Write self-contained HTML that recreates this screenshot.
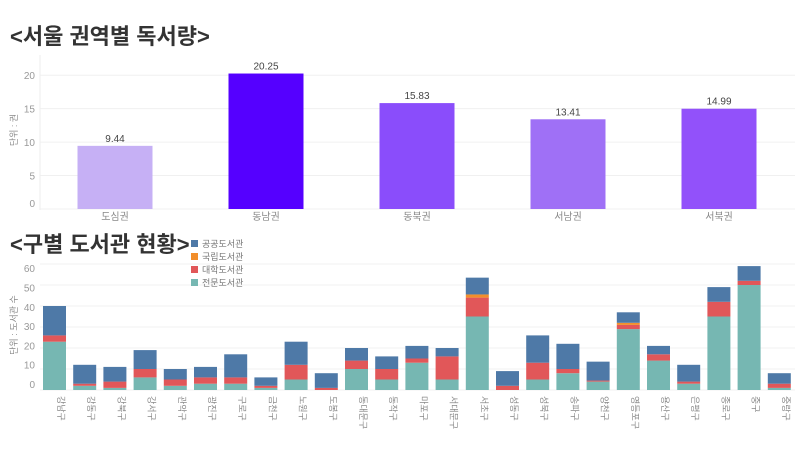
<!DOCTYPE html>
<html><head><meta charset="utf-8"><style>
body{margin:0;background:#fff;width:800px;height:450px;overflow:hidden;font-family:"Liberation Sans","Noto Sans CJK KR",sans-serif}
</style></head><body>
<svg id="s" width="800" height="450" xmlns="http://www.w3.org/2000/svg" style="font-family:'Liberation Sans','Noto Sans CJK KR',sans-serif">
<text x="10" y="44" font-size="22" font-weight="bold" fill="#333">&lt;서울 권역별 독서량&gt;</text>
<text x="10" y="252" font-size="22" font-weight="bold" fill="#333">&lt;구별 도서관 현황&gt;</text>
<text transform="translate(17,130) rotate(-90)" font-size="9" fill="#888" text-anchor="middle">단위 : 권</text>
<text transform="translate(17,325) rotate(-90)" font-size="9" fill="#888" text-anchor="middle">단위 : 도서관 수</text>
<g id="top"></g><g id="bot"></g><g id="leg"></g>
</svg>
<script>
const regions=["도심권","동남권","동북권","서남권","서북권"];
const readVals=[9.44,20.25,15.83,13.41,14.99];
const regionColors=["#c6b0f5","#5500ff","#8a4dfb","#9f70f6","#9251fa"];
const topTicks=[0,5,10,15,20];
const districts=["강남구","강동구","강북구","강서구","관악구","광진구","구로구","금천구","노원구","도봉구","동대문구","동작구","마포구","서대문구","서초구","성동구","성북구","송파구","양천구","영등포구","용산구","은평구","종로구","중구","중랑구"];
const specialLib=[23,2,1,6,2,3,3,1,5,0,10,5,13,5,35,0,5,8,4,29,14,3,35,50,1];
const univLib=[3,1,3,4,3,3,3,1,7,1,4,5,2,11,9,2,8,2,0.5,2,3,1,7,2,2];
const natLib=[0,0,0,0,0,0,0,0,0,0,0,0,0,0,1.5,0,0,0,0,1,0,0,0,0,0];
const pubLib=[14,9,7,9,5,5,11,4,11,7,6,6,6,4,8,7,13,12,9,5,4,8,7,7,5];
const botTicks=[0,10,20,30,40,50,60];
const seriesNames=["공공도서관","국립도서관","대학도서관","전문도서관"];
const seriesColors=["#4e79a7","#f28e2b","#e15759","#76b7b2"];
const NS="http://www.w3.org/2000/svg";
function mk(p,t,a,txt){const e=document.createElementNS(NS,t);for(const k in a)e.setAttribute(k,a[k]);if(txt!==undefined)e.textContent=txt;p.appendChild(e);return e;}
// top chart
const T=document.getElementById('top');
const ty=v=>209-v*6.69, tx=i=>115+i*151;
topTicks.forEach(v=>{
 const g=mk(T,'line',{x1:40,x2:795,y1:ty(v),y2:ty(v),stroke:'#f0f0f0'});
 
 const t=mk(T,'text',{x:35,y:ty(v)+(v===0?-2:4),'font-size':10,fill:'#999','text-anchor':'end'},v);
 
});
mk(T,'line',{x1:40,x2:40,y1:55,y2:210,stroke:'#eee'});
regions.forEach((r,i)=>{
 const b=mk(T,'rect',{x:tx(i)-37.5,y:ty(readVals[i]),width:75,height:readVals[i]*6.69,fill:regionColors[i]});
 
 const l=mk(T,'text',{x:tx(i),y:ty(readVals[i])-4,'font-size':10,fill:'#444','text-anchor':'middle'},readVals[i].toFixed(2));
 
 const c=mk(T,'text',{x:tx(i),y:220,'font-size':10,fill:'#888','text-anchor':'middle'},r);
 
});
// bottom chart
const B=document.getElementById('bot');
const by=v=>390-v*2.1, bx=i=>43+i*30.2;
botTicks.forEach(v=>{
 const g=mk(B,'line',{x1:40,x2:795,y1:by(v),y2:by(v),stroke:'#f2f2f2'});
 
 const t=mk(B,'text',{x:35,y:388-v*1.93,'font-size':10,fill:'#999','text-anchor':'end'},v);
 
});
const stacks=[specialLib,univLib,natLib,pubLib];
const stackColors=[seriesColors[3],seriesColors[2],seriesColors[1],seriesColors[0]];
const stackNames=["special","university","national","public"];
districts.forEach((d,i)=>{
 let acc=0;
 stacks.forEach((arr,k)=>{
  const v=arr[i]; if(v<=0) return;
  const r=mk(B,'rect',{x:bx(i),y:by(acc+v),width:23,height:v*2.1,fill:stackColors[k]});
  
  
  acc+=v;
 });
 const t=mk(B,'text',{transform:`translate(${bx(i)+15},396) rotate(90)`,'font-size':9,fill:'#888'},d);
 
});
// legend
const L=document.getElementById('leg');
seriesNames.forEach((n,i)=>{
 const y=240+i*13;
 const r=mk(L,'rect',{x:191,y:y,width:7,height:7,fill:seriesColors[i]});
 
 const t=mk(L,'text',{x:202,y:y+7,'font-size':9,fill:'#777'},n);
 
});
</script>
</body></html>
